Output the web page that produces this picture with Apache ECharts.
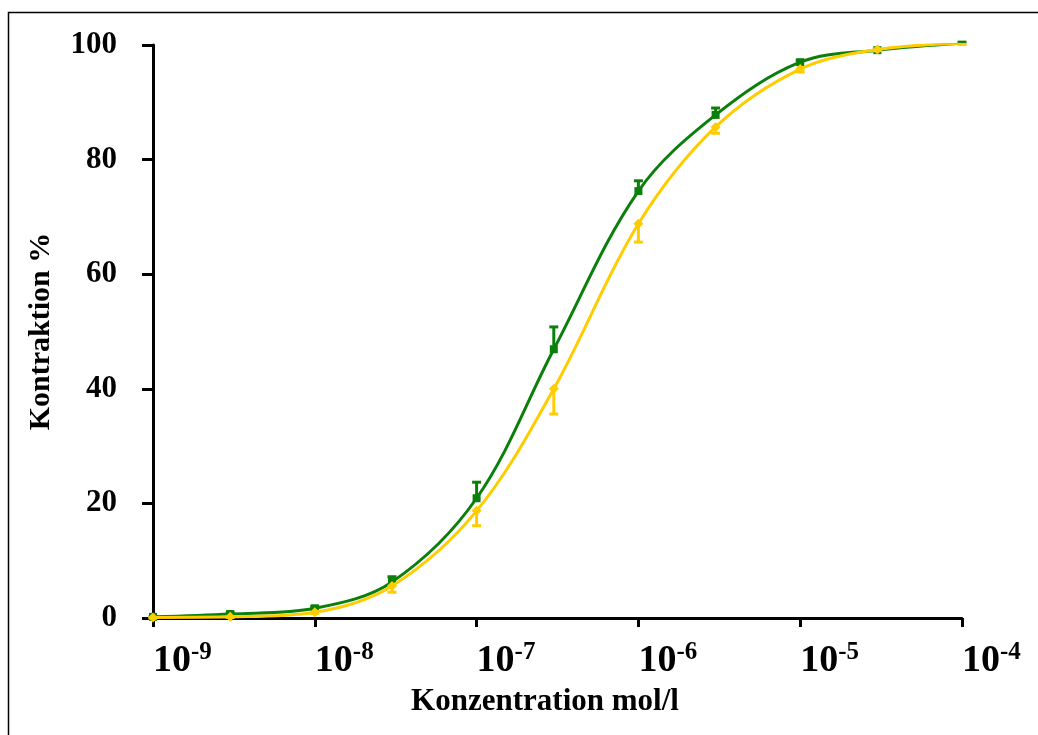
<!DOCTYPE html>
<html>
<head>
<meta charset="utf-8">
<script src="https://cdn.jsdelivr.net/npm/echarts@6/dist/echarts.min.js"></script>
<style>
  html, body { margin: 0; padding: 0; background: #fff; }
  #chart { width: 1038px; height: 735px; }
</style>
</head>
<body>
<div id="chart"></div>
<script>
// concentrations (mol/l)
var conc = [1e-9, 3e-9, 1e-8, 3e-8, 1e-7, 3e-7, 1e-6, 3e-6, 1e-5, 3e-5, 1e-4];
// contraction % (green series) and end of its error bar
var greenVals = [0.2, 0.7, 1.7, 6.3, 20.9, 46.9, 74.5, 87.8, 97.0, 99.1, 100.3];
var greenErr = [0.2, 0.9, 2.0, 7.2, 23.7, 50.8, 76.3, 89.0, 97.3, 99.2, 100.5];
// contraction % (yellow series) and end of its error bar
var yellowVals = [0.1, 0.2, 1.0, 5.6, 18.7, 40.0, 68.8, 85.7, 95.8, 99.2, 100.3];
var yellowErr = [0.0, 0.1, 0.8, 4.5, 16.1, 35.6, 65.6, 84.6, 95.3, 99.0, 100.1];
var yTicks = [0, 20, 40, 60, 80, 100];

var GREEN = "#0b7f0b";
var YELLOW = "#ffcc00";

function pairs(xs, ys) {
  return xs.map(function (x, i) { return [x, ys[i]]; });
}
function errData(xs, ys, es) {
  return xs.map(function (x, i) { return [x, ys[i], es[i]]; });
}
function errRenderer(color) {
  return function (params, api) {
    var p0 = api.coord([api.value(0), api.value(1)]);
    var p1 = api.coord([api.value(0), api.value(2)]);
    var cap = 4.5;
    return {
      type: "group",
      children: [
        { type: "line", shape: { x1: p0[0], y1: p0[1], x2: p1[0], y2: p1[1] },
          style: { stroke: color, lineWidth: 3 } },
        { type: "line", shape: { x1: p1[0] - cap, y1: p1[1], x2: p1[0] + cap, y2: p1[1] },
          style: { stroke: color, lineWidth: 3 } },
      ],
    };
  };
}

var chartDom = document.getElementById("chart");
var myChart = echarts.init(chartDom);
var option;

option = {
  animation: false,
  grid: { left: 153, right: 76, top: 45, bottom: 117 },
  graphic: [
    {
      type: "rect",
      shape: { x: 8.5, y: 12.5, width: 1100, height: 800 },
      style: { fill: "none", stroke: "#000", lineWidth: 1.5 },
      z: 0,
    },
  ],
  xAxis: {
    type: "log",
    logBase: 10,
    min: 1e-9,
    max: 1e-4,
    name: "Konzentration mol/l",
    nameLocation: "middle",
    nameGap: 68,
    nameTextStyle: {
      fontFamily: "Liberation Serif",
      fontWeight: "bold",
      fontSize: 31,
      color: "#000",
      padding: [0, 25, 0, 0],
    },
    axisLine: { onZero: false, lineStyle: { color: "#000", width: 3 } },
    axisTick: { inside: false, length: 9, lineStyle: { color: "#000", width: 3 } },
    minorTick: { show: false },
    splitLine: { show: false },
    axisLabel: {
      align: "left",
      margin: 22,
      showMaxLabel: true,
      showMinLabel: true,
      formatter: function (v) {
        var e = Math.round(Math.log10(v));
        return "{b|10}{s|" + e + "}";
      },
      rich: {
        b: { fontFamily: "Liberation Serif", fontWeight: "bold", fontSize: 38, color: "#000", verticalAlign: "bottom" },
        s: { fontFamily: "Liberation Serif", fontWeight: "bold", fontSize: 25, color: "#000", verticalAlign: "bottom", padding: [0, 0, 15, 0] },
      },
    },
  },
  yAxis: {
    type: "value",
    min: yTicks[0],
    max: yTicks[yTicks.length - 1],
    interval: 20,
    name: "Kontraktion %",
    nameLocation: "middle",
    nameGap: 97,
    nameTextStyle: {
      fontFamily: "Liberation Serif",
      fontWeight: "bold",
      fontSize: 30,
      color: "#000",
    },
    axisLine: { show: true, lineStyle: { color: "#000", width: 3 } },
    axisTick: { show: true, inside: false, length: 11, lineStyle: { color: "#000", width: 3 } },
    splitLine: { show: false },
    axisLabel: {
      margin: 36,
      fontFamily: "Liberation Serif",
      fontWeight: "bold",
      fontSize: 31,
      color: "#000",
    },
  },
  series: [
    {
      name: "green",
      type: "line",
      smooth: 0.35,
      data: pairs(conc, greenVals),
      symbol: "rect",
      symbolSize: 8,
      itemStyle: { color: GREEN },
      lineStyle: { color: GREEN, width: 3 },
      z: 3,
    },
    {
      name: "green err",
      type: "custom",
      data: errData(conc, greenVals, greenErr),
      renderItem: errRenderer(GREEN),
      encode: { x: 0, y: [1, 2] },
      z: 3,
    },
    {
      name: "yellow",
      type: "line",
      smooth: 0.35,
      data: pairs(conc, yellowVals),
      symbol: "diamond",
      symbolSize: 10,
      itemStyle: { color: YELLOW },
      lineStyle: { color: YELLOW, width: 3 },
      z: 4,
    },
    {
      name: "yellow err",
      type: "custom",
      data: errData(conc, yellowVals, yellowErr),
      renderItem: errRenderer(YELLOW),
      encode: { x: 0, y: [1, 2] },
      z: 4,
    },
  ],
};

option && myChart.setOption(option);
</script>
</body>
</html>
